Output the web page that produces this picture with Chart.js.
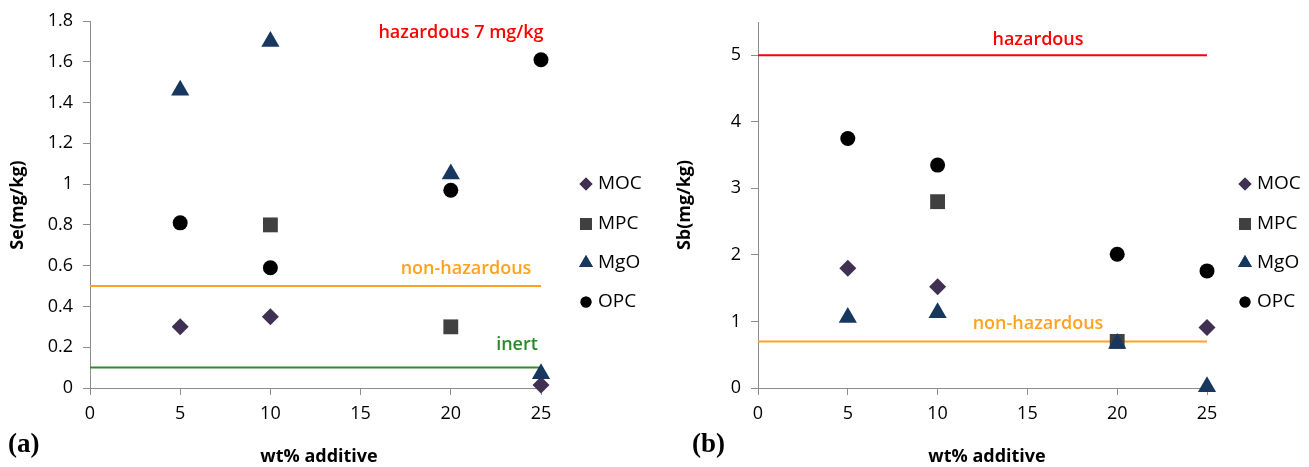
<!DOCTYPE html>
<html>
<head>
<meta charset="utf-8">
<script src="https://cdn.jsdelivr.net/npm/chart.js@4.4.1/dist/chart.umd.min.js"></script>
<style>
  body { margin: 0; background: #fff; }
  #wrap { position: relative; width: 1309px; height: 467px; }
  canvas { position: absolute; top: 0; }
</style>
</head>
<body>
<div id="wrap">
  <canvas id="chartA" width="655" height="467" style="left:0px"></canvas>
  <canvas id="chartB" width="654" height="467" style="left:655px"></canvas>
</div>
<script>
// x positions (wt% additive)
var wt = [5, 10, 20, 25];
var xTicks = [0, 5, 10, 15, 20, 25];

// (a) Se leaching, mg/kg
var seMOC = [0.30, 0.35, null, 0.015];
var seMPC = [null, 0.80, 0.30, null];
var seMgO = [1.46, 1.70, 1.05, 0.07];
var seOPC = [0.81, 0.59, 0.97, 1.61];
var seTicks = [0, 0.2, 0.4, 0.6, 0.8, 1, 1.2, 1.4, 1.6, 1.8];
var seNonHaz = 0.5;
var seInert = 0.1;

// (b) Sb leaching, mg/kg
var sbMOC = [1.80, 1.52, null, 0.91];
var sbMPC = [null, 2.80, 0.70, null];
var sbMgO = [1.06, 1.13, 0.67, 0.02];
var sbOPC = [3.75, 3.35, 2.01, 1.76];
var sbTicks = [0, 1, 2, 3, 4, 5];
var sbHaz = 5;
var sbNonHaz = 0.7;

var series = ["MOC", "MPC", "MgO", "OPC"];

var axisGray = "#8c8c8c";
var tickFont = { family: "'Open Sans', sans-serif", size: 18 };
var styles = {
  MOC: { pointStyle: "rectRot", radius: 8.5, color: "#403152", legendR: 6.5 },
  MPC: { pointStyle: "rect", radius: 10.5, color: "#404040", legendR: 8.5 },
  MgO: { pointStyle: "triangle", radius: 10.5, color: "#17375e", legendR: 8 },
  OPC: { pointStyle: "circle", radius: 7.5, color: "#000000", legendR: 5.5 }
};

function toPoints(vals) {
  var pts = [];
  for (var i = 0; i < wt.length; i++) {
    if (vals[i] !== null) pts.push({ x: wt[i], y: vals[i] });
  }
  return pts;
}

function limitLine(y, color, w) {
  return {
    label: "",
    data: [{ x: xTicks[0], y: y }, { x: xTicks[xTicks.length - 1], y: y }],
    showLine: true,
    borderColor: color,
    borderWidth: w,
    pointRadius: 0,
    order: 10,
    clip: false
  };
}

function makeChart(id, values, limits, yTicks, yMax, cfg) {
  var datasets = series.map(function (name, i) {
    var s = styles[name];
    return {
      label: name,
      data: toPoints(values[i]),
      pointStyle: s.pointStyle,
      pointRadius: s.radius,
      pointBackgroundColor: s.color,
      pointBorderColor: s.color,
      pointBorderWidth: 0,
      showLine: false,
      order: 4 - i,
      clip: false
    };
  });
  limits.forEach(function (l) { datasets.push(limitLine(l.y, l.color, 2)); });

  var textPlugin = {
    id: "texts",
    afterDraw: function (chart) {
      var ctx = chart.ctx;
      ctx.save();
      ctx.textBaseline = "middle";

      // limit labels
      cfg.labels.forEach(function (t) {
        ctx.fillStyle = t.color;
        ctx.font = "600 18px 'Open Sans', sans-serif";
        ctx.textAlign = "center";
        ctx.fillText(t.text, t.x, t.y);
      });

      // legend
      series.forEach(function (name, i) {
        var s = styles[name];
        var ly = cfg.legendY[i];
        ctx.fillStyle = s.color;
        ctx.strokeStyle = s.color;
        Chart.helpers.drawPoint(ctx, { pointStyle: s.pointStyle, radius: s.legendR, rotation: 0, borderWidth: 0 }, cfg.legendX, ly);
        ctx.fill();
        ctx.fillStyle = "#000";
        ctx.font = "19px 'Open Sans', sans-serif";
        ctx.textAlign = "left";
        ctx.fillText(name, cfg.legendX + 12, ly);
      });

      // axis titles
      ctx.fillStyle = "#000";
      ctx.font = "bold 18px 'Open Sans', sans-serif";
      ctx.textAlign = "center";
      ctx.fillText("wt% additive", cfg.xTitleX, 457);
      ctx.save();
      ctx.translate(cfg.yTitleX, 205);
      ctx.rotate(-Math.PI / 2);
      ctx.fillText(cfg.yTitle, 0, 0);
      ctx.restore();

      // panel letter
      ctx.font = "bold 27px 'Liberation Serif', serif";
      ctx.textAlign = "left";
      ctx.fillText(cfg.panel, cfg.panelX, 445);
      ctx.restore();
    }
  };

  return new Chart(document.getElementById(id), {
    type: "scatter",
    data: { datasets: datasets },
    options: {
      responsive: false,
      animation: false,
      layout: { padding: { top: cfg.top, right: cfg.right, left: 0, bottom: 0 } },
      plugins: { legend: { display: false }, tooltip: { enabled: false } },
      scales: {
        x: {
          type: "linear",
          min: 0,
          max: 25,
          afterBuildTicks: function (s) { s.ticks = xTicks.map(function (v) { return { value: v }; }); },
          afterFit: function (s) { s.height = 79; },
          grid: { drawOnChartArea: false, drawTicks: true, tickLength: 7, color: axisGray },
          border: { color: axisGray, width: 1 },
          ticks: { font: tickFont, color: "#000", padding: 8, maxRotation: 0,
                   callback: function (v) { return String(v); } }
        },
        y: {
          type: "linear",
          min: 0,
          max: yMax,
          afterBuildTicks: function (s) { s.ticks = yTicks.map(function (v) { return { value: v }; }); },
          afterFit: function (s) { s.width = cfg.yAxisW; },
          grid: { drawOnChartArea: false, drawTicks: true, tickLength: 7, color: axisGray },
          border: { color: axisGray, width: 1 },
          ticks: { font: tickFont, color: "#000", padding: 10,
                   callback: function (v) { return String(Math.round(v * 10) / 10); } }
        }
      }
    },
    plugins: [textPlugin]
  });
}

makeChart("chartA", [seMOC, seMPC, seMgO, seOPC],
  [{ y: seNonHaz, color: "#ffa21f" }, { y: seInert, color: "#2e8b2e" }],
  seTicks, 1.8,
  {
    top: 21, right: 114, yAxisW: 90,
    labels: [
      { text: "hazardous 7 mg/kg", color: "#ff0000", x: 461, y: 33 },
      { text: "non-hazardous", color: "#ffa21f", x: 466, y: 269 },
      { text: "inert", color: "#2a8a2a", x: 517, y: 345 }
    ],
    legendX: 586, legendY: [184, 224, 263, 302],
    xTitleX: 319, yTitleX: 18, yTitle: "Se(mg/kg)",
    panel: "(a)", panelX: 8
  });

makeChart("chartB", [sbMOC, sbMPC, sbMgO, sbOPC],
  [{ y: sbHaz, color: "#ff0000" }, { y: sbNonHaz, color: "#ffa21f" }],
  sbTicks, 5.5,
  {
    top: 22, right: 102, yAxisW: 103,
    labels: [
      { text: "hazardous", color: "#ff0000", x: 383, y: 40 },
      { text: "non-hazardous", color: "#ffa21f", x: 383, y: 324 }
    ],
    legendX: 590, legendY: [184, 224, 263, 302],
    xTitleX: 332, yTitleX: 30, yTitle: "Sb(mg/kg)",
    panel: "(b)", panelX: 37
  });
</script>
</body>
</html>
